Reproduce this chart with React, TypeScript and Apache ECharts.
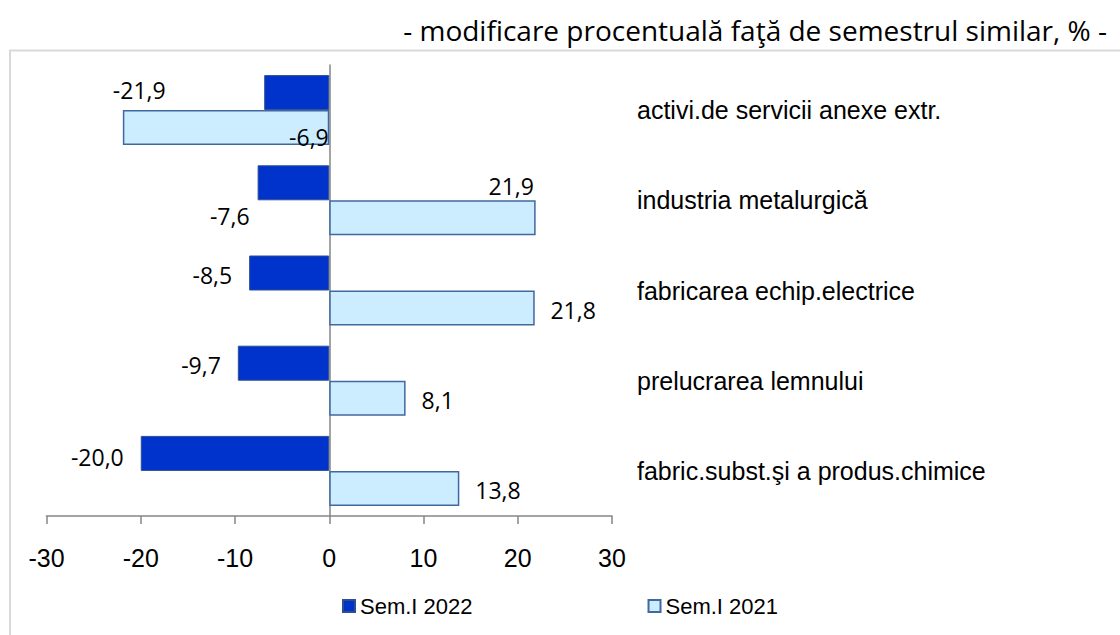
import React, { useEffect, useRef } from "react";
import * as echarts from "echarts";

const categories = [
  "activi.de servicii anexe extr.",
  "industria metalurgică",
  "fabricarea echip.electrice",
  "prelucrarea lemnului",
  "fabric.subst.şi a produs.chimice",
];
const sem2022 = [-6.9, -7.6, -8.5, -9.7, -20.0];
const sem2021 = [-21.9, 21.9, 21.8, 8.1, 13.8];
const seriesNames = ["Sem.I 2022", "Sem.I 2021"];
const titleText = "- modificare procentuală faţă de semestrul similar, % -";

// label placements (Excel's manually moved labels)
const darkLabelPlacement: [string, number, number][] = [
  ["insideRight", 4.5, 44],
  ["left", -3, 33],
  ["left", -12, 1.5],
  ["left", -12, 1.5],
  ["left", -12, 3.5],
];
const lightLabelPlacement: [string, number, number][] = [
  ["insideLeft", -15, -37.5],
  ["insideRight", 3.3, -32],
  ["right", 10.7, 2.5],
  ["right", 11, 1.5],
  ["right", 11, 1.5],
];

const fmt = (v: number) => v.toFixed(1).replace(".", ",");
const labelFont = "'Open Sans', 'Noto Sans', sans-serif";
const arial = "'Liberation Sans', Arial, sans-serif";

export default function App() {
  const ref = useRef<HTMLDivElement>(null);
  useEffect(() => {
    document.body.style.margin = "0";
    if (!ref.current) return;
    const chart = echarts.init(ref.current, null, { renderer: "svg" });
    const mkData = (vals: number[], place: [string, number, number][]) =>
      vals.map((v, i) => ({
        value: v,
        label: {
          show: true,
          position: place[i][0],
          offset: [place[i][1], place[i][2]],
          formatter: () => fmt(v),
          fontFamily: labelFont,
          fontSize: 23,
          color: "#000",
        },
      }));
    chart.setOption({
      animation: false,
      backgroundColor: "#fff",
      grid: { left: 46.5, right: 508, top: 65, bottom: 119, containLabel: false },
      legend: {
        left: 342,
        top: 595,
        padding: 0,
        itemWidth: 12,
        itemHeight: 12,
        itemGap: 175,
        icon: "rect",
        textStyle: { fontFamily: arial, fontSize: 22, color: "#000" },
        data: seriesNames,
      },
      xAxis: {
        type: "value",
        min: -30,
        max: 30,
        interval: 10,
        splitLine: { show: false },
        axisLine: { show: true, lineStyle: { color: "#868686", width: 1.5 } },
        axisTick: { show: true, length: 8, lineStyle: { color: "#868686", width: 1.5 } },
        axisLabel: { fontFamily: arial, fontSize: 25, color: "#000", margin: 29 },
      },
      yAxis: [
        {
          type: "category",
          data: categories,
          inverse: true,
          axisLine: { show: true, onZero: true, lineStyle: { color: "#868686", width: 1.5 } },
          axisTick: { show: false },
          axisLabel: { show: false },
        },
        {
          type: "category",
          data: categories,
          inverse: true,
          position: "right",
          axisLine: { show: false },
          axisTick: { show: false },
          axisLabel: { fontFamily: arial, fontSize: 25, color: "#000", margin: 25, align: "left" },
        },
      ],
      graphic: [
        {
          type: "rect",
          shape: { x: 10, y: 50.5, width: 1130, height: 620 },
          style: { fill: "none", stroke: "#d9d9d9", lineWidth: 2 },
          silent: true,
        },
        {
          type: "text",
          right: 13,
          top: 16,
          style: {
            text: titleText,
            fontFamily: labelFont,
            fontSize: 28,
            fill: "#000",
          },
        },
      ],
      series: [
        {
          name: seriesNames[0],
          type: "bar",
          yAxisIndex: 0,
          barGap: "0%",
          barCategoryGap: "22.4%",
          itemStyle: { color: "#0033CC", borderColor: "#2F4F8F", borderWidth: 1 },
          data: mkData(sem2022, darkLabelPlacement),
        },
        {
          name: seriesNames[1],
          type: "bar",
          yAxisIndex: 0,
          barGap: "0%",
          barCategoryGap: "22.4%",
          itemStyle: { color: "#CCECFF", borderColor: "#41689F", borderWidth: 1.5 },
          data: mkData(sem2021, lightLabelPlacement),
        },
      ],
    });
    return () => chart.dispose();
  }, []);
  return <div ref={ref} style={{ width: 1120, height: 635 }} />;
}
